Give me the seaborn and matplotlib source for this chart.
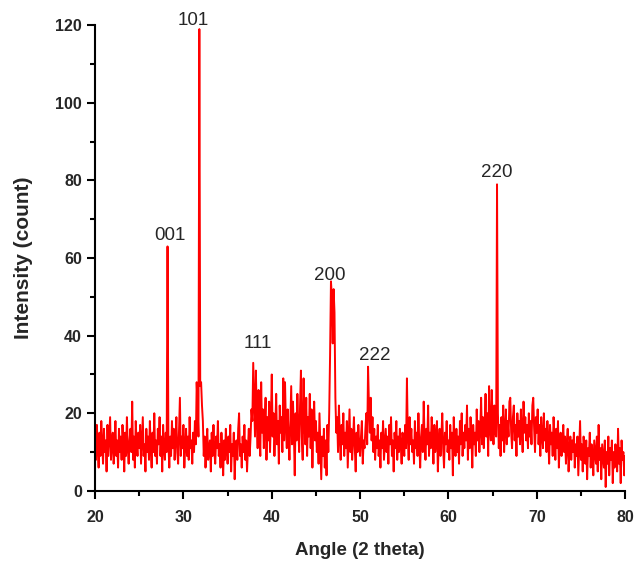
import matplotlib
matplotlib.use("Agg")
import matplotlib.pyplot as plt
import numpy as np
import pandas as pd
import seaborn as sns
from matplotlib.ticker import MultipleLocator

# XRD scan, 20-80 deg at 0.1 deg steps (one row per degree)
intensity = [
    14, 8, 17, 11, 6, 15, 9, 18, 12, 7,      # 20
    16, 10, 13, 5, 17, 9, 14, 19, 8, 12,     # 21
    15, 7, 11, 18, 9, 13, 6, 16, 10, 14,     # 22
    8, 17, 12, 5, 15, 9, 19, 11, 7, 13,      # 23
    16, 10, 23, 8, 14, 6, 18, 12, 9, 15,     # 24
    11, 17, 7, 13, 19, 9, 12, 5, 16, 10,     # 25
    14, 8, 18, 11, 6, 15, 10, 20, 9, 13,     # 26
    7, 16, 12, 19, 9, 14, 5, 17, 11, 8,      # 27
    15, 10, 63, 12, 6, 14, 9, 18, 11, 16,    # 28
    8, 13, 19, 10, 7, 15, 24, 9, 14, 11,     # 29
    17, 6, 12, 16, 9, 14, 8, 19, 11, 13,     # 30
    7, 15, 10, 18, 12, 28, 22, 14, 119, 27,  # 31
    28, 22, 18, 9, 14, 6, 12, 16, 8, 11,     # 32
    13, 5, 15, 9, 17, 10, 7, 14, 11, 18,     # 33
    9, 12, 6, 15, 10, 4, 13, 8, 16, 11,      # 34
    7, 14, 10, 17, 5, 12, 9, 15, 3, 11,      # 35
    13, 8, 16, 20, 9, 12, 6, 14, 10, 17,     # 36
    8, 13, 5, 11, 16, 9, 14, 21, 18, 33,     # 37
    24, 14, 31, 19, 11, 26, 16, 9, 28, 15,   # 38
    21, 11, 17, 24, 8, 19, 13, 23, 10, 18,   # 39
    30, 14, 20, 9, 16, 25, 12, 18, 7, 22,    # 40
    15, 19, 10, 29, 13, 28, 17, 11, 21, 14,  # 41
    8, 18, 27, 12, 23, 15, 4, 20, 13, 25,    # 42
    16, 10, 22, 31, 14, 8, 29, 18, 12, 24,   # 43
    9, 19, 14, 25, 11, 21, 6, 17, 23, 13,    # 44
    18, 10, 15, 7, 20, 12, 3, 14, 9, 16,     # 45
    6, 13, 4, 17, 10, 20, 35, 54, 50, 38,    # 46
    52, 46, 24, 15, 19, 10, 22, 14, 8, 17,   # 47
    12, 20, 9, 15, 11, 18, 6, 14, 21, 10,    # 48
    16, 8, 13, 19, 11, 5, 15, 10, 17, 12,    # 49
    9, 14, 18, 7, 13, 11, 16, 20, 12, 32,    # 50
    22, 15, 24, 13, 19, 10, 16, 8, 14, 11,   # 51
    17, 9, 13, 6, 15, 11, 18, 8, 12, 16,     # 52
    10, 14, 7, 17, 12, 19, 9, 13, 5, 15,     # 53
    11, 18, 8, 14, 10, 16, 12, 7, 15, 13,    # 54
    9, 17, 11, 29, 14, 8, 19, 12, 16, 10,    # 55
    13, 7, 18, 11, 15, 9, 20, 12, 6, 14,     # 56
    17, 10, 23, 13, 8, 16, 12, 22, 9, 15,    # 57
    11, 19, 14, 7, 17, 10, 13, 18, 5, 12,    # 58
    16, 9, 14, 20, 11, 6, 15, 12, 18, 10,    # 59
    13, 8, 17, 11, 15, 4, 19, 12, 9, 16,     # 60
    10, 14, 7, 18, 12, 20, 9, 15, 11, 17,    # 61
    13, 22, 8, 16, 11, 19, 14, 6, 17, 12,    # 62
    15, 9, 21, 13, 18, 10, 16, 24, 12, 19,   # 63
    11, 17, 25, 14, 20, 9, 27, 16, 13, 26,   # 64
    18, 12, 22, 15, 14, 79, 20, 11, 17, 9,   # 65
    19, 13, 22, 10, 16, 21, 12, 18, 14, 23,  # 66
    24, 15, 11, 19, 22, 13, 17, 9, 20, 14,   # 67
    18, 12, 21, 16, 10, 23, 15, 19, 13, 17,  # 68
    11, 20, 14, 18, 12, 22, 24, 16, 10, 19,  # 69
    15, 21, 12, 17, 9, 19, 14, 11, 20, 13,   # 70
    16, 10, 18, 13, 7, 17, 12, 15, 9, 19,    # 71
    14, 8, 16, 11, 18, 6, 13, 15, 9, 12,     # 72
    17, 10, 14, 7, 12, 16, 5, 11, 14, 8,     # 73
    13, 10, 15, 6, 12, 9, 14, 4, 11, 18,     # 74
    8, 12, 5, 14, 10, 7, 13, 3, 11, 9,       # 75
    15, 6, 12, 9, 4, 13, 10, 7, 14, 5,       # 76
    17, 8, 11, 3, 12, 9, 6, 13, 1, 10,       # 77
    7, 14, 4, 11, 8, 13, 2, 10, 6, 12,       # 78
    9, 5, 16, 7, 11, 2, 13, 8, 10, 4,        # 79
    9,                                       # 80
]
angle = np.round(np.linspace(20, 80, len(intensity)), 2)

# peak labels (hkl) and where they sit
peak_labels = ["001", "101", "111", "200", "222", "220"]
label_x = [28.5, 31.1, 38.4, 46.6, 51.7, 65.5]
label_y = [65.7, 121.3, 38.1, 55.6, 35.0, 82.0]

df = pd.DataFrame({"angle": angle, "intensity": intensity})

sns.set_style("ticks")
plt.rcParams["font.family"] = ["Liberation Sans", "DejaVu Sans"]

fig = plt.figure(figsize=(6.34, 5.61), dpi=100)
ax = fig.add_axes([0.150, 0.125, 0.836, 0.830])

sns.lineplot(data=df, x="angle", y="intensity", color="#ff0000",
             linewidth=1.4, estimator=None, sort=False, ax=ax)

for lab, lx, ly in zip(peak_labels, label_x, label_y):
    ax.text(lx, ly, lab, fontsize=13.5, ha="center", va="center", clip_on=False)

ax.set_xlim(20, 80)
ax.set_ylim(0, 120)
ax.xaxis.set_major_locator(MultipleLocator(10))
ax.xaxis.set_minor_locator(MultipleLocator(5))
ax.yaxis.set_major_locator(MultipleLocator(20))
ax.yaxis.set_minor_locator(MultipleLocator(10))

sns.despine(ax=ax)
for side in ["left", "bottom"]:
    ax.spines[side].set_linewidth(1.5)
    ax.spines[side].set_color("black")

ax.tick_params(which="major", direction="out", length=6, width=1.5,
               labelsize=11.5, color="black")
ax.tick_params(which="minor", direction="out", length=3.5, width=1.5, color="black")
ax.tick_params(axis="x", which="major", pad=8)
for t in ax.get_xticklabels() + ax.get_yticklabels():
    t.set_fontweight("bold")

ax.set_xlabel("Angle (2 theta)", fontsize=13.5, fontweight="bold", labelpad=12)
ax.set_ylabel("Intensity (count)", fontsize=15, fontweight="bold", labelpad=16)

fig.savefig("out.png", dpi=100, facecolor="white")
